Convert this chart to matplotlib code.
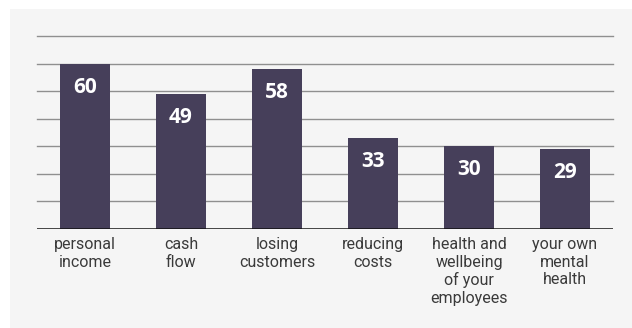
import matplotlib.pyplot as plt
import numpy as np

categories = ["personal\nincome", "cash\nflow", "losing\ncustomers", "reducing\ncosts",
              "health and\nwellbeing\nof your\nemployees", "your own\nmental\nhealth"]
values = [60, 49, 58, 33, 30, 29]

bar_color = "#463f5a"
bg = "#f5f5f5"

fig = plt.figure(figsize=(6.32, 3.28), dpi=100)
fig.patch.set_facecolor("white")

# grey panel behind the chart
panel = fig.add_axes([10 / 632, 0, 1, 1 - 9 / 328], zorder=0)
panel.axis("off")
panel.add_patch(plt.Rectangle((0, 0), 1, 1, transform=panel.transAxes, color=bg))

ax = fig.add_axes([37 / 632, 1 - 229 / 328, 576 / 632, 193 / 328], zorder=1)
ax.patch.set_alpha(0)

x = np.arange(len(values))
ax.bar(x, values, width=0.53, color=bar_color, zorder=3)
ax.set_xlim(-0.5, len(values) - 0.5)
ax.set_ylim(0, 70)

for y in range(10, 80, 10):
    ax.axhline(y, color="#8f8f8f", lw=1.0, zorder=1, clip_on=False)
ax.axhline(0, color="#111111", lw=1.8, zorder=4)

for xi, v in zip(x, values):
    ax.text(xi, v - 8.5, str(v), ha="center", va="center", color="white",
            fontsize=15, fontweight="bold", family=["Open Sans", "DejaVu Sans"], zorder=5)

ax.set_xticks(x)
ax.set_xticklabels(categories, fontsize=11.5, color="#3a3a3a", linespacing=1.2,
                   family=["Roboto", "DejaVu Sans"])
ax.tick_params(axis="x", length=0, pad=6)
ax.set_yticks([])
for s in ax.spines.values():
    s.set_visible(False)

fig.savefig("out.png", dpi=100, facecolor=fig.get_facecolor())
